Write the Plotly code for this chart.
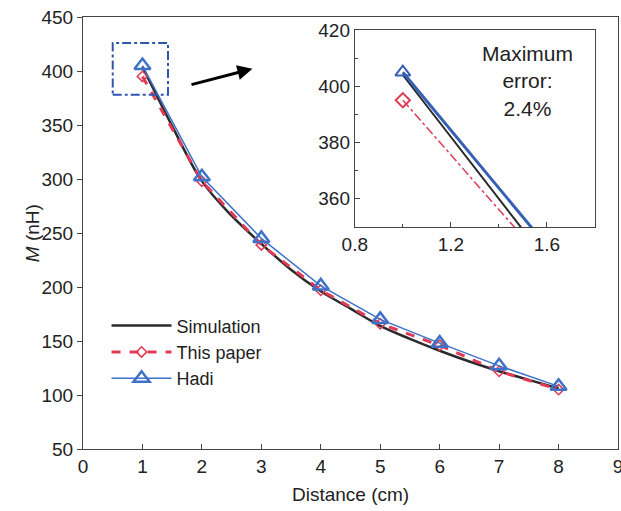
import plotly.graph_objects as go

# distance (cm) and mutual inductance M (nH)
dist = [1, 2, 3, 4, 5, 6, 7, 8]
sim_dist = [1, 1.5, 2, 2.5, 3, 3.5, 4, 4.5, 5, 5.5, 6, 6.5, 7, 7.5, 8]
sim_m = [404, 349, 298, 266, 240, 216, 196, 180, 164, 152, 141, 131, 122, 114, 106]
paper_m = [395, 298, 239, 197, 166, 146, 122, 105]
hadi_m = [405, 302, 245, 201, 170, 148, 127, 108]

BLACK = "#2b2b2b"
RED = "#e03a55"
BLUE = "#3e72c8"
FONT = "Liberation Sans, Arial, sans-serif"

fig = go.Figure()

# main plot
fig.add_trace(go.Scatter(x=sim_dist, y=sim_m, name="Simulation", mode="lines",
                         line=dict(color=BLACK, width=2.5, shape="spline")))
fig.add_trace(go.Scatter(x=dist, y=paper_m, name="This paper", mode="lines+markers",
                         line=dict(color=RED, width=3, dash="dash"),
                         marker=dict(symbol="diamond-open", size=8, color=RED,
                                     line=dict(width=1.5))))
fig.add_trace(go.Scatter(x=dist, y=hadi_m, name="Hadi", mode="lines+markers",
                         line=dict(color=BLUE, width=1.5),
                         marker=dict(symbol="triangle-up-open", size=14, color=BLUE,
                                     line=dict(width=2.5))))

# inset
fig.add_trace(go.Scatter(x=sim_dist, y=sim_m, mode="lines", showlegend=False,
                         line=dict(color=BLACK, width=2), xaxis="x2", yaxis="y2"))
fig.add_trace(go.Scatter(x=dist, y=paper_m, mode="lines+markers", showlegend=False,
                         line=dict(color=RED, width=1.5, dash="dashdot"),
                         marker=dict(symbol="diamond-open", size=11, color=RED,
                                     line=dict(width=2)),
                         xaxis="x2", yaxis="y2"))
fig.add_trace(go.Scatter(x=dist, y=hadi_m, mode="lines+markers", showlegend=False,
                         line=dict(color="#3560b5", width=3),
                         marker=dict(symbol="triangle-up-open", size=13, color="#3560b5",
                                     line=dict(width=2)),
                         xaxis="x2", yaxis="y2"))

# zoom box and arrow
fig.add_shape(type="rect", x0=0.5, x1=1.43, y0=378, y1=426, xref="x", yref="y",
              line=dict(color="#2f55b0", width=2, dash="dashdot"))
fig.add_annotation(x=2.85, y=402, ax=1.8, ay=387, xref="x", yref="y",
                   axref="x", ayref="y", text="", showarrow=True,
                   arrowhead=2, arrowsize=1, arrowwidth=3, arrowcolor="black")

fig.add_annotation(x=1.52, y=402, xref="x2", yref="y2", text="Maximum<br>error:<br>2.4%",
                   showarrow=False, font=dict(size=21, color="#222"))

# axis titles
fig.add_annotation(x=0.5, y=-0.105, xref="paper", yref="paper", yanchor="middle",
                   text="Distance (cm)", showarrow=False, font=dict(size=19, color="#222"))
fig.add_annotation(x=-0.095, y=0.5, xref="paper", yref="paper", xanchor="center",
                   text="<i>M</i> (nH)", textangle=-90, showarrow=False,
                   font=dict(size=19, color="#222"))

axis_common = dict(showline=True, linecolor="#444", linewidth=1, mirror=True,
                   showgrid=False, zeroline=False, ticklen=5, tickcolor="#444",
                   automargin=False, tickfont=dict(size=19, color="#222"))

fig.update_layout(
    width=621, height=511,
    margin=dict(l=83, r=3, t=17, b=62),
    plot_bgcolor="white", paper_bgcolor="white",
    font=dict(family=FONT, size=19, color="#222"),
    xaxis=dict(range=[0, 9], dtick=1, ticks="inside", ticklabeloverflow="allow",
               **axis_common),
    yaxis=dict(range=[50, 450], dtick=50, ticks="outside", **axis_common),
    xaxis2=dict(domain=[0.508, 0.957], anchor="y2", range=[0.8, 1.8],
                tickvals=[0.8, 1.2, 1.6], ticks="inside",
                minor=dict(tickvals=[1.0, 1.4], ticks="inside", ticklen=3),
                **axis_common),
    yaxis2=dict(domain=[0.514, 0.970], anchor="x2", range=[350, 420],
                tickvals=[360, 380, 400, 420], ticks="inside",
                minor=dict(tickvals=[370, 390, 410], ticks="inside", ticklen=3),
                **axis_common),
    legend=dict(x=0.044, y=0.328, xanchor="left", yanchor="top",
                bgcolor="rgba(0,0,0,0)", font=dict(size=18),
                itemwidth=60, tracegroupgap=0),
)

fig.write_html("out.html", config={"displayModeBar": False},
               post_script="document.body.style.margin='0px';")
